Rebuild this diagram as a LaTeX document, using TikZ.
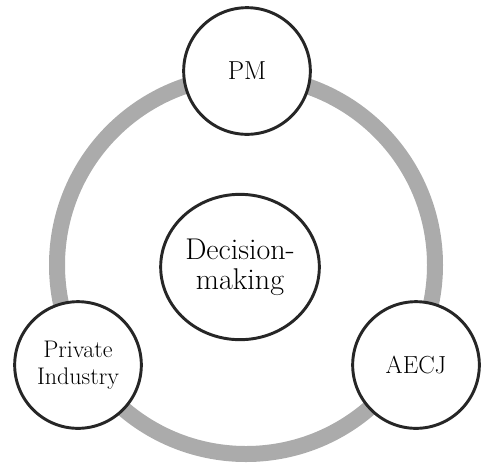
\documentclass[tikz,border=0pt]{standalone}
\usetikzlibrary{shapes.geometric}
\begin{document}
\begin{tikzpicture}[x=0.75pt,y=-0.75pt,
  party/.style={circle, draw=black!85, line width=2.2pt, fill=white,
    minimum size=95pt, inner sep=0pt, align=center},
  core/.style={ellipse, draw=black!85, line width=2.2pt, fill=white,
    minimum width=119pt, minimum height=109pt, inner sep=0pt, align=center},
  loop/.style={draw=black!33, line width=12pt}]
\useasboundingbox (0,0) rectangle (481,469);
% the gray cycle linking the three parties
\coordinate (hub) at (246,265);
\draw[loop] (hub) circle[radius=141.75pt];
% central decision node
\node[core, font=\fontsize{22.5}{22.5}\selectfont] (dm) at (240,267) {Decision-\\making};
% the three parties on the cycle
\node[party, font=\fontsize{19.5}{20}\selectfont] (pm) at (247,71) {PM};
\node[party, font=\fontsize{18}{20}\selectfont] (pi) at (78,365) {Private\\Industry};
\node[party, font=\fontsize{18.5}{20}\selectfont] (aecj) at (416,365) {AECJ};
\end{tikzpicture}
\end{document}
